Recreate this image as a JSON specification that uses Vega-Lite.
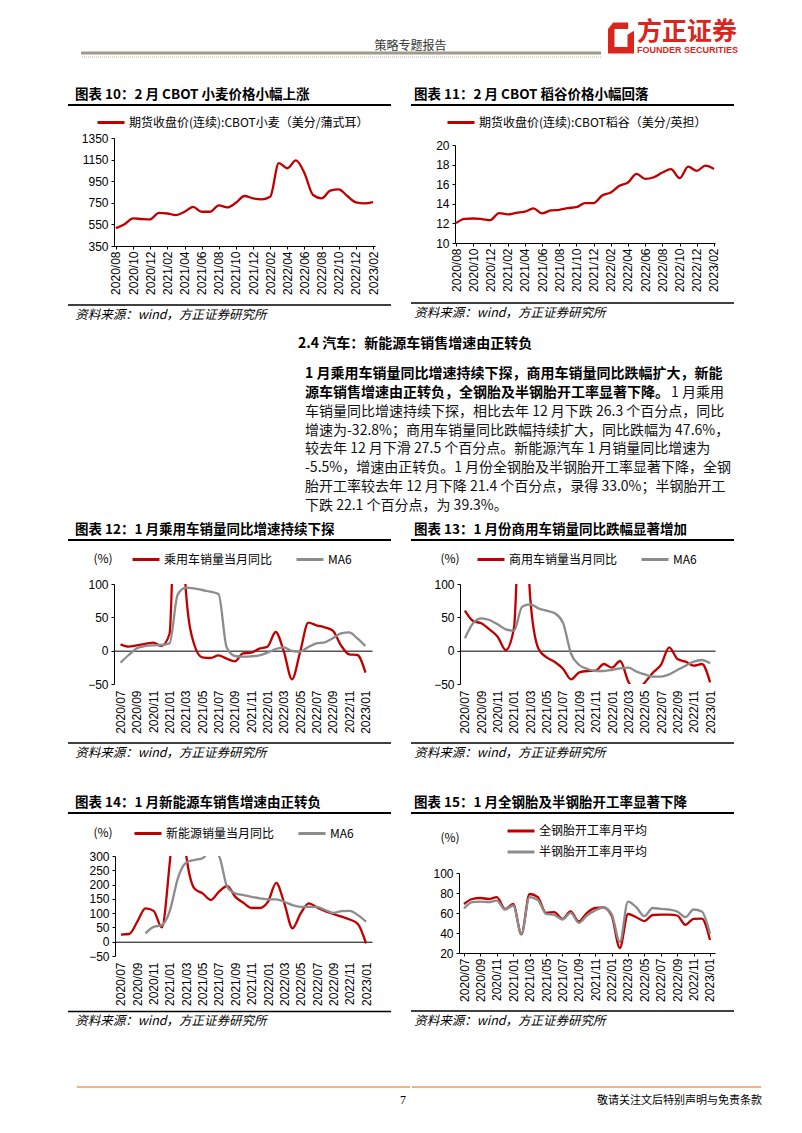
{
  "$schema": "https://vega.github.io/schema/vega-lite/v6.json",
  "background": "white",
  "padding": {"left": 67, "top": 20, "right": 5, "bottom": 5},
  "datasets": {
    "c10": [{"m":"2020/08","v":515},{"m":"2020/09","v":552},{"m":"2020/10","v":605},{"m":"2020/11","v":600},{"m":"2020/12","v":597},{"m":"2021/01","v":657},{"m":"2021/02","v":651},{"m":"2021/03","v":636},{"m":"2021/04","v":667},{"m":"2021/05","v":713},{"m":"2021/06","v":667},{"m":"2021/07","v":667},{"m":"2021/08","v":726},{"m":"2021/09","v":707},{"m":"2021/10","v":750},{"m":"2021/11","v":813},{"m":"2021/12","v":791},{"m":"2022/01","v":782},{"m":"2022/02","v":806},{"m":"2022/03","v":1117},{"m":"2022/04","v":1070},{"m":"2022/05","v":1142},{"m":"2022/06","v":1024},{"m":"2022/07","v":822},{"m":"2022/08","v":791},{"m":"2022/09","v":862},{"m":"2022/10","v":875},{"m":"2022/11","v":813},{"m":"2022/12","v":754},{"m":"2023/01","v":744},{"m":"2023/02","v":757}],
    "c11": [{"m":"2020/08","v":12.03},{"m":"2020/09","v":12.47},{"m":"2020/10","v":12.5},{"m":"2020/11","v":12.44},{"m":"2020/12","v":12.34},{"m":"2021/01","v":13.05},{"m":"2021/02","v":12.92},{"m":"2021/03","v":13.08},{"m":"2021/04","v":13.19},{"m":"2021/05","v":13.53},{"m":"2021/06","v":13.02},{"m":"2021/07","v":13.32},{"m":"2021/08","v":13.39},{"m":"2021/09","v":13.56},{"m":"2021/10","v":13.66},{"m":"2021/11","v":14.07},{"m":"2021/12","v":14.07},{"m":"2022/01","v":14.85},{"m":"2022/02","v":15.15},{"m":"2022/03","v":15.83},{"m":"2022/04","v":16.17},{"m":"2022/05","v":17.05},{"m":"2022/06","v":16.54},{"m":"2022/07","v":16.71},{"m":"2022/08","v":17.19},{"m":"2022/09","v":17.53},{"m":"2022/10","v":16.61},{"m":"2022/11","v":17.8},{"m":"2022/12","v":17.36},{"m":"2023/01","v":17.9},{"m":"2023/02","v":17.56}],
    "c12": [{"m":"2020/07","乘用车销量当月同比":9.5,"MA6":-18},{"m":"2020/08","乘用车销量当月同比":6,"MA6":-6.5},{"m":"2020/09","乘用车销量当月同比":8,"MA6":3.5},{"m":"2020/10","乘用车销量当月同比":10,"MA6":7},{"m":"2020/11","乘用车销量当月同比":12,"MA6":8},{"m":"2020/12","乘用车销量当月同比":7,"MA6":8.5},{"m":"2021/01","乘用车销量当月同比":25,"MA6":11},{"m":"2021/02","乘用车销量当月同比":360,"MA6":84},{"m":"2021/03","乘用车销量当月同比":90,"MA6":94.5},{"m":"2021/04","乘用车销量当月同比":10,"MA6":93.5},{"m":"2021/05","乘用车销量当月同比":-10,"MA6":91},{"m":"2021/06","乘用车销量当月同比":-11,"MA6":88.5},{"m":"2021/07","乘用车销量当月同比":-7,"MA6":85},{"m":"2021/08","乘用车销量当月同比":-12,"MA6":5},{"m":"2021/09","乘用车销量当月同比":-16,"MA6":-8},{"m":"2021/10","乘用车销量当月同比":-4,"MA6":-9},{"m":"2021/11","乘用车销量当月同比":-3,"MA6":-8.5},{"m":"2021/12","乘用车销量当月同比":3,"MA6":-7},{"m":"2022/01","乘用车销量当月同比":6,"MA6":-3},{"m":"2022/02","乘用车销量当月同比":28,"MA6":2.5},{"m":"2022/03","乘用车销量当月同比":-1,"MA6":5},{"m":"2022/04","乘用车销量当月同比":-43,"MA6":-0.5},{"m":"2022/05","乘用车销量当月同比":-2,"MA6":-1.5},{"m":"2022/06","乘用车销量当月同比":42,"MA6":5.5},{"m":"2022/07","乘用车销量当月同比":38,"MA6":11},{"m":"2022/08","乘用车销量当月同比":35,"MA6":12.5},{"m":"2022/09","乘用车销量当月同比":30,"MA6":18.5},{"m":"2022/10","乘用车销量当月同比":8,"MA6":26},{"m":"2022/11","乘用车销量当月同比":-5.5,"MA6":27.5},{"m":"2022/12","乘用车销量当月同比":-6.5,"MA6":18.5},{"m":"2023/01","乘用车销量当月同比":-32.8,"MA6":7}],
    "c13": [{"m":"2020/07","商用车销量当月同比":60,"MA6":18.5},{"m":"2020/08","商用车销量当月同比":44.5,"MA6":41},{"m":"2020/09","商用车销量当月同比":41,"MA6":48.5},{"m":"2020/10","商用车销量当月同比":32,"MA6":46},{"m":"2020/11","商用车销量当月同比":21,"MA6":39.5},{"m":"2020/12","商用车销量当月同比":1,"MA6":32},{"m":"2021/01","商用车销量当月同比":33.5,"MA6":30},{"m":"2021/02","商用车销量当月同比":300,"MA6":66},{"m":"2021/03","商用车销量当月同比":78,"MA6":69.5},{"m":"2021/04","商用车销量当月同比":3,"MA6":63.5},{"m":"2021/05","商用车销量当月同比":-10,"MA6":60},{"m":"2021/06","商用车销量当月同比":-17,"MA6":56},{"m":"2021/07","商用车销量当月同比":-27,"MA6":42},{"m":"2021/08","商用车销量当月同比":-43,"MA6":-5},{"m":"2021/09","商用车销量当月同比":-32.5,"MA6":-21.5},{"m":"2021/10","商用车销量当月同比":-30.5,"MA6":-27.5},{"m":"2021/11","商用车销量当月同比":-30,"MA6":-30.5},{"m":"2021/12","商用车销量当月同比":-20,"MA6":-30.5},{"m":"2022/01","商用车销量当月同比":-25.5,"MA6":-29},{"m":"2022/02","商用车销量当月同比":-15.5,"MA6":-26.5},{"m":"2022/03","商用车销量当月同比":-46.5,"MA6":-25.5},{"m":"2022/04","商用车销量当月同比":-61.4,"MA6":-31.5},{"m":"2022/05","商用车销量当月同比":-48,"MA6":-35.5},{"m":"2022/06","商用车销量当月同比":-33,"MA6":-39},{"m":"2022/07","商用车销量当月同比":-21,"MA6":-39},{"m":"2022/08","商用车销量当月同比":5,"MA6":-35.5},{"m":"2022/09","商用车销量当月同比":-12.5,"MA6":-29},{"m":"2022/10","商用车销量当月同比":-16.5,"MA6":-22.5},{"m":"2022/11","商用车销量当月同比":-22.5,"MA6":-16.5},{"m":"2022/12","商用车销量当月同比":-20,"MA6":-14},{"m":"2023/01","商用车销量当月同比":-47.6,"MA6":-19}],
    "c14": [{"m":"2020/07","新能源销量当月同比":25},{"m":"2020/08","新能源销量当月同比":27},{"m":"2020/09","新能源销量当月同比":70},{"m":"2020/10","新能源销量当月同比":117,"MA6":29},{"m":"2020/11","新能源销量当月同比":108,"MA6":52},{"m":"2020/12","新能源销量当月同比":50,"MA6":58},{"m":"2021/01","新能源销量当月同比":285,"MA6":110},{"m":"2021/02","新能源销量当月同比":600,"MA6":225},{"m":"2021/03","新能源销量当月同比":300,"MA6":277},{"m":"2021/04","新能源销量当月同比":186,"MA6":286},{"m":"2021/05","新能源销量当月同比":169,"MA6":292},{"m":"2021/06","新能源销量当月同比":146,"MA6":320},{"m":"2021/07","新能源销量当月同比":175,"MA6":300},{"m":"2021/08","新能源销量当月同比":195,"MA6":192},{"m":"2021/09","新能源销量当月同比":157,"MA6":169},{"m":"2021/10","新能源销量当月同比":136,"MA6":163},{"m":"2021/11","新能源销量当月同比":118,"MA6":157},{"m":"2021/12","新能源销量当月同比":118,"MA6":152},{"m":"2022/01","新能源销量当月同比":140,"MA6":148},{"m":"2022/02","新能源销量当月同比":206,"MA6":148},{"m":"2022/03","新能源销量当月同比":134,"MA6":140},{"m":"2022/04","新能源销量当月同比":47,"MA6":128},{"m":"2022/05","新能源销量当月同比":99,"MA6":122},{"m":"2022/06","新能源销量当月同比":134,"MA6":122},{"m":"2022/07","新能源销量当月同比":120,"MA6":122},{"m":"2022/08","新能源销量当月同比":107,"MA6":111},{"m":"2022/09","新能源销量当月同比":97,"MA6":101},{"m":"2022/10","新能源销量当月同比":87.5,"MA6":107},{"m":"2022/11","新能源销量当月同比":78,"MA6":108},{"m":"2022/12","新能源销量当月同比":62,"MA6":93},{"m":"2023/01","新能源销量当月同比":-5.5,"MA6":70}],
    "c15": [{"m":"2020/07","全钢胎开工率月平均":69,"半钢胎开工率月平均":64.5},{"m":"2020/08","全钢胎开工率月平均":74,"半钢胎开工率月平均":70.8},{"m":"2020/09","全钢胎开工率月平均":75,"半钢胎开工率月平均":71.4},{"m":"2020/10","全钢胎开工率月平均":74,"半钢胎开工率月平均":70.8},{"m":"2020/11","全钢胎开工率月平均":75.8,"半钢胎开工率月平均":72.4},{"m":"2020/12","全钢胎开工率月平均":64,"半钢胎开工率月平均":63.5},{"m":"2021/01","全钢胎开工率月平均":69,"半钢胎开工率月平均":67.5},{"m":"2021/02","全钢胎开工率月平均":38.6,"半钢胎开工率月平均":39.2},{"m":"2021/03","全钢胎开工率月平均":79,"半钢胎开工率月平均":75.8},{"m":"2021/04","全钢胎开工率月平均":75.8,"半钢胎开工率月平均":73},{"m":"2021/05","全钢胎开工率月平均":60.2,"半钢胎开工率月平均":59.2},{"m":"2021/06","全钢胎开工率月平均":60.8,"半钢胎开工率月平均":58.2},{"m":"2021/07","全钢胎开工率月平均":54.2,"半钢胎开工率月平均":53.5},{"m":"2021/08","全钢胎开工率月平均":61.5,"半钢胎开工率月平均":60.2},{"m":"2021/09","全钢胎开工率月平均":51.5,"半钢胎开工率月平均":50.2},{"m":"2021/10","全钢胎开工率月平均":60.2,"半钢胎开工率月平均":57.5},{"m":"2021/11","全钢胎开工率月平均":65,"半钢胎开工率月平均":62.5},{"m":"2021/12","全钢胎开工率月平均":65.5,"半钢胎开工率月平均":65.5},{"m":"2022/01","全钢胎开工率月平均":57.5,"半钢胎开工率月平均":59.2},{"m":"2022/02","全钢胎开工率月平均":25,"半钢胎开工率月平均":31},{"m":"2022/03","全钢胎开工率月平均":59,"半钢胎开工率月平均":71.4},{"m":"2022/04","全钢胎开工率月平均":55.8,"半钢胎开工率月平均":65.8},{"m":"2022/05","全钢胎开工率月平均":51.9,"半钢胎开工率月平均":56.8},{"m":"2022/06","全钢胎开工率月平均":58,"半钢胎开工率月平均":65},{"m":"2022/07","全钢胎开工率月平均":58.4,"半钢胎开工率月平均":64.1},{"m":"2022/08","全钢胎开工率月平均":58.4,"半钢胎开工率月平均":63.5},{"m":"2022/09","全钢胎开工率月平均":57.5,"半钢胎开工率月平均":61.5},{"m":"2022/10","全钢胎开工率月平均":48.2,"半钢胎开工率月平均":55.8},{"m":"2022/11","全钢胎开工率月平均":54.2,"半钢胎开工率月平均":63.5},{"m":"2022/12","全钢胎开工率月平均":54.4,"半钢胎开工率月平均":61.4},{"m":"2023/01","全钢胎开工率月平均":33,"半钢胎开工率月平均":39.3}],
    "para": [
      {"line":1,"part":"bold","text":"1 月乘用车销量同比增速持续下探，商用车销量同比跌幅扩大，新能"},
      {"line":2,"part":"bold","text":"源车销售增速由正转负，全钢胎及半钢胎开工率显著下降。"},
      {"line":2,"part":"tail","text":"1 月乘用"},
      {"line":3,"part":"body","text":"车销量同比增速持续下探，相比去年 12 月下跌 26.3 个百分点，同比"},
      {"line":4,"part":"body","text":"增速为-32.8%；商用车销量同比跌幅持续扩大，同比跌幅为 47.6%，"},
      {"line":5,"part":"body","text":"较去年 12 月下滑 27.5 个百分点。新能源汽车 1 月销量同比增速为"},
      {"line":6,"part":"body","text":"-5.5%，增速由正转负。1 月份全钢胎及半钢胎开工率显著下降，全钢"},
      {"line":7,"part":"body","text":"胎开工率较去年 12 月下降 21.4 个百分点，录得 33.0%；半钢胎开工"},
      {"line":8,"part":"body","text":"下跌 22.1 个百分点，为 39.3%。"}
    ]
  },
  "config": {
    "view": {"stroke": null},
    "font": "Noto Sans CJK SC",
    "axis": {"labelFont": "Liberation Sans", "labelFontSize": 12, "labelColor": "#000000", "domainColor": "#000000", "tickColor": "#000000", "grid": false, "titleFont": "Noto Sans CJK SC", "titleFontSize": 12, "titleFontWeight": "normal", "titleColor": "#000000", "labelOverlap": false},
    "axisX": {"labelAngle": -90, "tickSize": 3, "labelPadding": 2},
    "axisY": {"tickSize": 3, "labelPadding": 3},
    "legend": {"orient": "none", "direction": "horizontal", "symbolType": "stroke", "symbolStrokeWidth": 3, "symbolSize": 729, "labelFont": "Noto Sans CJK SC", "labelFontSize": 12, "labelColor": "#000000", "labelLimit": 400, "columnPadding": 17, "labelOffset": 3, "padding": 0},
    "title": {"font": "Noto Sans CJK SC", "anchor": "start", "color": "#000000"}
  },
  "resolve": {"scale": {"color": "independent"}, "legend": {"color": "independent"}},
  "spacing": 29,
  "vconcat": [
    {
      "spacing": 0,
      "hconcat": [
        {"width": 11, "height": 4, "data": {"values": []}, "mark": "point"},
        {"width": 520, "height": 4, "data": {"values": [{}]},
         "title": {"text": "策略专题报告", "fontSize": 12, "fontWeight": "normal", "color": "#333333", "dx": 295, "offset": -1},
         "layer": [
           {"mark": {"type": "rule", "color": "#A09B87", "strokeWidth": 3}, "encoding": {"y": {"datum": 1, "type": "quantitative", "scale": {"domain": [0, 1]}, "axis": null}}},
           {"mark": {"type": "rule", "color": "#BDB9A8", "strokeWidth": 1, "strokeDash": [1, 1]}, "encoding": {"y": {"datum": 0, "type": "quantitative", "axis": null}}}
         ]},
        {"width": 5, "height": 4, "data": {"values": []}, "mark": "point"},
        {"width": 26, "height": 4, "data": {"values": [{}]},
         "mark": {"type": "point", "shape": "M-1,-0.7 L-0.6,-1.2 L0.55,-1.2 L0.55,-0.7 L-0.5,-0.7 L-0.5,0.7 L0.5,0.7 L0.5,-0.25 L1,-0.55 L1,1.2 L-1,1.2 Z", "size": 676, "filled": true, "color": "#D9251D", "opacity": 1, "yOffset": -17}},
        {"width": 115, "height": 4, "data": {"values": []}, "mark": "point",
         "title": {"text": "方正证券", "subtitle": "FOUNDER SECURITIES", "fontSize": 25, "fontWeight": "bold", "color": "#D9251D", "subtitleColor": "#D9251D", "subtitleFont": "Liberation Sans", "subtitleFontSize": 9, "subtitleFontWeight": "bold", "subtitlePadding": 1, "offset": -2, "dx": 3}}
      ]
    },
    {
      "spacing": 15,
      "resolve": {"scale": {"color": "independent"}, "legend": {"color": "independent"}},
      "vconcat": [
        {
          "spacing": 18,
          "resolve": {"scale": {"color": "independent"}, "legend": {"color": "independent"}},
          "hconcat": [
            {
              "columns": 1, "spacing": 1,
              "resolve": {"scale": {"color": "independent"}, "legend": {"color": "independent"}},
              "concat": [
                {"width": 323, "height": 1, "data": {"values": [{}]},
                 "title": {"text": "图表 10：2 月 CBOT 小麦价格小幅上涨", "fontSize": 13.5, "fontWeight": "bold", "offset": 3, "dx": 8},
                 "mark": {"type": "rule", "color": "#000000", "strokeWidth": 2},
                 "encoding": {"y": {"datum": 1, "type": "quantitative", "scale": {"domain": [0, 1]}, "axis": null}}},
                {"width": 323, "height": 108, "data": {"name": "c10"},
                 "mark": {"type": "line", "interpolate": "monotone", "strokeWidth": 2.3, "clip": true},
                 "encoding": {
                   "x": {"field": "m", "type": "ordinal", "scale": {"type": "point", "padding": 0.23, "range": [46, 307]}, "axis": {"title": null, "values": ["2020/08","2020/10","2020/12","2021/02","2021/04","2021/06","2021/08","2021/10","2021/12","2022/02","2022/04","2022/06","2022/08","2022/10","2022/12","2023/02"]}},
                   "y": {"field": "v", "type": "quantitative", "scale": {"domain": [350, 1350], "nice": false, "zero": false}, "axis": {"title": null, "format": "d", "offset": -46, "values": [350, 550, 750, 950, 1150, 1350]}},
                   "color": {"datum": "期货收盘价(连续):CBOT小麦（美分/蒲式耳）", "type": "nominal", "scale": {"range": ["#C00000"]}, "legend": {"title": null, "orient": "none", "legendX": 28, "legendY": -30.5}}
                 }},
                {"width": 323, "height": 9, "data": {"values": [{}]},
                 "title": {"text": "资料来源：wind，方正证券研究所", "orient": "bottom", "fontSize": 12.5, "fontStyle": "italic", "fontWeight": "normal", "offset": 3, "dx": 8},
                 "mark": {"type": "rule", "color": "#000000", "strokeWidth": 1.5},
                 "encoding": {"y": {"datum": 0, "type": "quantitative", "scale": {"domain": [0, 1]}, "axis": null}}}
              ]
            },
            {
              "columns": 1, "spacing": 1,
              "resolve": {"scale": {"color": "independent"}, "legend": {"color": "independent"}},
              "concat": [
                {"width": 323, "height": 1, "data": {"values": [{}]},
                 "title": {"text": "图表 11：2 月 CBOT 稻谷价格小幅回落", "fontSize": 13.5, "fontWeight": "bold", "offset": 3, "dx": 4},
                 "mark": {"type": "rule", "color": "#000000", "strokeWidth": 2},
                 "encoding": {"y": {"datum": 1, "type": "quantitative", "scale": {"domain": [0, 1]}, "axis": null}}},
                {"width": 323, "height": 98, "data": {"name": "c11"},
                 "mark": {"type": "line", "interpolate": "monotone", "strokeWidth": 2.3, "clip": true},
                 "encoding": {
                   "x": {"field": "m", "type": "ordinal", "scale": {"type": "point", "padding": 0.12, "range": [44, 304]}, "axis": {"title": null, "values": ["2020/08","2020/10","2020/12","2021/02","2021/04","2021/06","2021/08","2021/10","2021/12","2022/02","2022/04","2022/06","2022/08","2022/10","2022/12","2023/02"]}},
                   "y": {"field": "v", "type": "quantitative", "scale": {"domain": [10, 20], "nice": false, "zero": false}, "axis": {"title": null, "offset": -44, "values": [10, 12, 14, 16, 18, 20]}},
                   "color": {"datum": "期货收盘价(连续):CBOT稻谷（美分/英担）", "type": "nominal", "scale": {"range": ["#C00000"]}, "legend": {"title": null, "orient": "none", "legendX": 35, "legendY": -37.5}}
                 }},
                {"width": 323, "height": 10, "data": {"values": [{}]},
                 "title": {"text": "资料来源：wind，方正证券研究所", "orient": "bottom", "fontSize": 12.5, "fontStyle": "italic", "fontWeight": "normal", "offset": 3, "dx": 4},
                 "mark": {"type": "rule", "color": "#000000", "strokeWidth": 1.5},
                 "encoding": {"y": {"datum": 0, "type": "quantitative", "scale": {"domain": [0, 1]}, "axis": null}}}
              ]
            }
          ]
        },
        {
          "spacing": 7,
          "resolve": {"scale": {"color": "independent"}, "legend": {"color": "independent"}},
          "vconcat": [
            {
              "spacing": 0,
              "hconcat": [
                {"width": 230, "height": 1, "data": {"values": []}, "mark": "point"},
                {"width": 419, "height": 150, "data": {"name": "para"},
                 "title": {"text": "2.4 汽车：新能源车销售增速由正转负", "fontSize": 14, "fontWeight": "bold", "dx": -7, "offset": 14},
                 "layer": [
                   {"transform": [{"filter": "datum.part === 'bold'"}],
                    "mark": {"type": "text", "align": "left", "baseline": "middle", "fontSize": 14, "fontWeight": "bold", "color": "#000000"},
                    "encoding": {"x": {"datum": 0, "type": "quantitative", "scale": {"domain": [0, 1]}, "axis": null}, "y": {"field": "line", "type": "ordinal", "scale": {"type": "point", "padding": 0.5}, "axis": null}, "text": {"field": "text"}}},
                   {"transform": [{"filter": "datum.part === 'body'"}],
                    "mark": {"type": "text", "align": "left", "baseline": "middle", "fontSize": 14, "fontWeight": "normal", "color": "#111111"},
                    "encoding": {"x": {"datum": 0, "type": "quantitative", "scale": {"domain": [0, 1]}, "axis": null}, "y": {"field": "line", "type": "ordinal", "scale": {"type": "point", "padding": 0.5}, "axis": null}, "text": {"field": "text"}}},
                   {"transform": [{"filter": "datum.part === 'tail'"}],
                    "mark": {"type": "text", "align": "right", "baseline": "middle", "fontSize": 14, "fontWeight": "normal", "color": "#111111"},
                    "encoding": {"x": {"datum": 1, "type": "quantitative", "scale": {"domain": [0, 1]}, "axis": null}, "y": {"field": "line", "type": "ordinal", "scale": {"type": "point", "padding": 0.5}, "axis": null}, "text": {"field": "text"}}}
                 ]}
              ]
            },
            {
              "spacing": 35,
              "resolve": {"scale": {"color": "independent"}, "legend": {"color": "independent"}},
              "vconcat": [
                {
                  "spacing": 18,
                  "resolve": {"scale": {"color": "independent"}, "legend": {"color": "independent"}},
                  "hconcat": [
                    {
                      "columns": 1, "spacing": 3,
                      "resolve": {"scale": {"color": "independent"}, "legend": {"color": "independent"}},
                      "concat": [
                        {"width": 323, "height": 1, "data": {"values": [{}]},
                         "title": {"text": "图表 12：1 月乘用车销量同比增速持续下探", "fontSize": 13.5, "fontWeight": "bold", "offset": 3, "dx": 8},
                         "mark": {"type": "rule", "color": "#000000", "strokeWidth": 2},
                         "encoding": {"y": {"datum": 1, "type": "quantitative", "scale": {"domain": [0, 1]}, "axis": null}}},
                        {"width": 323, "height": 100, "data": {"name": "c12"},
                         "transform": [{"fold": ["乘用车销量当月同比", "MA6"], "as": ["s", "v"]}],
                         "mark": {"type": "line", "interpolate": "monotone", "strokeWidth": 2.3, "clip": true},
                         "encoding": {
                           "x": {"field": "m", "type": "ordinal", "scale": {"type": "point", "padding": 0.8, "range": [46, 304]}, "axis": {"title": null, "offset": -33.33, "ticks": false, "labelPadding": 39.3, "values": ["2020/07","2020/09","2020/11","2021/01","2021/03","2021/05","2021/07","2021/09","2021/11","2022/01","2022/03","2022/05","2022/07","2022/09","2022/11","2023/01"]}},
                           "y": {"field": "v", "type": "quantitative", "scale": {"domain": [-50, 100], "nice": false, "zero": false}, "axis": {"title": "(%)", "titleX": -21, "titleY": -26, "titleAngle": 0, "titleAlign": "left", "titleBaseline": "middle", "offset": -46, "values": [-50, 0, 50, 100]}},
                           "color": {"field": "s", "type": "nominal", "scale": {"domain": ["乘用车销量当月同比", "MA6"], "range": ["#C00000", "#8C8C8C"]}, "legend": {"title": null, "orient": "none", "legendX": 63, "legendY": -39.5}}
                         }},
                        {"width": 323, "height": 6, "data": {"values": [{}]},
                         "title": {"text": "资料来源：wind，方正证券研究所", "orient": "bottom", "fontSize": 12.5, "fontStyle": "italic", "fontWeight": "normal", "offset": 3, "dx": 8},
                         "mark": {"type": "rule", "color": "#000000", "strokeWidth": 1.5},
                         "encoding": {"y": {"datum": 0, "type": "quantitative", "scale": {"domain": [0, 1]}, "axis": null}}}
                      ]
                    },
                    {
                      "columns": 1, "spacing": 3,
                      "resolve": {"scale": {"color": "independent"}, "legend": {"color": "independent"}},
                      "concat": [
                        {"width": 323, "height": 1, "data": {"values": [{}]},
                         "title": {"text": "图表 13：1 月份商用车销量同比跌幅显著增加", "fontSize": 13.5, "fontWeight": "bold", "offset": 3, "dx": 4},
                         "mark": {"type": "rule", "color": "#000000", "strokeWidth": 2},
                         "encoding": {"y": {"datum": 1, "type": "quantitative", "scale": {"domain": [0, 1]}, "axis": null}}},
                        {"width": 323, "height": 100, "data": {"name": "c13"},
                         "transform": [{"fold": ["商用车销量当月同比", "MA6"], "as": ["s", "v"]}],
                         "mark": {"type": "line", "interpolate": "monotone", "strokeWidth": 2.3, "clip": true},
                         "encoding": {
                           "x": {"field": "m", "type": "ordinal", "scale": {"type": "point", "padding": 0.6, "range": [49, 304]}, "axis": {"title": null, "offset": -33.33, "ticks": false, "labelPadding": 39.3, "values": ["2020/07","2020/09","2020/11","2021/01","2021/03","2021/05","2021/07","2021/09","2021/11","2022/01","2022/03","2022/05","2022/07","2022/09","2022/11","2023/01"]}},
                           "y": {"field": "v", "type": "quantitative", "scale": {"domain": [-50, 100], "nice": false, "zero": false}, "axis": {"title": "(%)", "titleX": -20, "titleY": -26, "titleAngle": 0, "titleAlign": "left", "titleBaseline": "middle", "offset": -49, "values": [-50, 0, 50, 100]}},
                           "color": {"field": "s", "type": "nominal", "scale": {"domain": ["商用车销量当月同比", "MA6"], "range": ["#C00000", "#8C8C8C"]}, "legend": {"title": null, "orient": "none", "legendX": 65, "legendY": -39.5}}
                         }},
                        {"width": 323, "height": 6, "data": {"values": [{}]},
                         "title": {"text": "资料来源：wind，方正证券研究所", "orient": "bottom", "fontSize": 12.5, "fontStyle": "italic", "fontWeight": "normal", "offset": 3, "dx": 4},
                         "mark": {"type": "rule", "color": "#000000", "strokeWidth": 1.5},
                         "encoding": {"y": {"datum": 0, "type": "quantitative", "scale": {"domain": [0, 1]}, "axis": null}}}
                      ]
                    }
                  ]
                },
                {
                  "spacing": 58,
                  "resolve": {"scale": {"color": "independent"}, "legend": {"color": "independent"}},
                  "vconcat": [
                    {
                      "spacing": 18,
                      "resolve": {"scale": {"color": "independent"}, "legend": {"color": "independent"}},
                      "hconcat": [
                        {
                          "columns": 1, "spacing": 4,
                          "resolve": {"scale": {"color": "independent"}, "legend": {"color": "independent"}},
                          "concat": [
                            {"width": 323, "height": 1, "data": {"values": [{}]},
                             "title": {"text": "图表 14：1 月新能源车销售增速由正转负", "fontSize": 13.5, "fontWeight": "bold", "offset": 3, "dx": 8},
                             "mark": {"type": "rule", "color": "#000000", "strokeWidth": 2},
                             "encoding": {"y": {"datum": 1, "type": "quantitative", "scale": {"domain": [0, 1]}, "axis": null}}},
                            {"width": 323, "height": 100, "data": {"name": "c14"},
                             "transform": [{"fold": ["新能源销量当月同比", "MA6"], "as": ["s", "v"]}],
                             "mark": {"type": "line", "interpolate": "monotone", "strokeWidth": 2.3, "clip": true},
                             "encoding": {
                               "x": {"field": "m", "type": "ordinal", "scale": {"type": "point", "padding": 0.73, "range": [47, 304]}, "axis": {"title": null, "offset": -14.29, "ticks": false, "labelPadding": 20.3, "values": ["2020/07","2020/09","2020/11","2021/01","2021/03","2021/05","2021/07","2021/09","2021/11","2022/01","2022/03","2022/05","2022/07","2022/09","2022/11","2023/01"]}},
                               "y": {"field": "v", "type": "quantitative", "scale": {"domain": [-50, 300], "nice": false, "zero": false}, "axis": {"title": "(%)", "titleX": -22, "titleY": -24, "titleAngle": 0, "titleAlign": "left", "titleBaseline": "middle", "offset": -47, "values": [-50, 0, 50, 100, 150, 200, 250, 300]}},
                               "color": {"field": "s", "type": "nominal", "scale": {"domain": ["新能源销量当月同比", "MA6"], "range": ["#C00000", "#8C8C8C"]}, "legend": {"title": null, "orient": "none", "legendX": 65, "legendY": -37.5}}
                             }},
                            {"width": 323, "height": 1.5, "data": {"values": [{}]},
                             "title": {"text": "资料来源：wind，方正证券研究所", "orient": "bottom", "fontSize": 12.5, "fontStyle": "italic", "fontWeight": "normal", "offset": 3, "dx": 8},
                             "mark": {"type": "rule", "color": "#000000", "strokeWidth": 1.5},
                             "encoding": {"y": {"datum": 0, "type": "quantitative", "scale": {"domain": [0, 1]}, "axis": null}}}
                          ]
                        },
                        {
                          "columns": 1, "spacing": 2,
                          "resolve": {"scale": {"color": "independent"}, "legend": {"color": "independent"}},
                          "concat": [
                            {"width": 323, "height": 1, "data": {"values": [{}]},
                             "title": {"text": "图表 15：1 月全钢胎及半钢胎开工率显著下降", "fontSize": 13.5, "fontWeight": "bold", "offset": 3, "dx": 4},
                             "mark": {"type": "rule", "color": "#000000", "strokeWidth": 2},
                             "encoding": {"y": {"datum": 1, "type": "quantitative", "scale": {"domain": [0, 1]}, "axis": null}}},
                            {"width": 323, "height": 80, "data": {"name": "c15"},
                             "transform": [{"fold": ["全钢胎开工率月平均", "半钢胎开工率月平均"], "as": ["s", "v"]}],
                             "mark": {"type": "line", "interpolate": "monotone", "strokeWidth": 2.3, "clip": true},
                             "encoding": {
                               "x": {"field": "m", "type": "ordinal", "scale": {"type": "point", "padding": 0.61, "range": [48, 304]}, "axis": {"title": "(%)", "titleX": 29, "titleY": -116, "titleAngle": 0, "titleAlign": "left", "titleBaseline": "middle", "values": ["2020/07","2020/09","2020/11","2021/01","2021/03","2021/05","2021/07","2021/09","2021/11","2022/01","2022/03","2022/05","2022/07","2022/09","2022/11","2023/01"]}},
                               "y": {"field": "v", "type": "quantitative", "scale": {"domain": [20, 100], "nice": false, "zero": false}, "axis": {"title": null, "offset": -48, "values": [20, 40, 60, 80, 100]}},
                               "color": {"field": "s", "type": "nominal", "scale": {"domain": ["全钢胎开工率月平均", "半钢胎开工率月平均"], "range": ["#C00000", "#8C8C8C"]}, "legend": {"title": null, "orient": "none", "direction": "horizontal", "columns": 1, "rowPadding": 0, "legendX": 95, "legendY": -57}}
                             }},
                            {"width": 323, "height": 7, "data": {"values": [{}]},
                             "title": {"text": "资料来源：wind，方正证券研究所", "orient": "bottom", "fontSize": 12.5, "fontStyle": "italic", "fontWeight": "normal", "offset": 3, "dx": 4},
                             "mark": {"type": "rule", "color": "#000000", "strokeWidth": 1.5},
                             "encoding": {"y": {"datum": 0, "type": "quantitative", "scale": {"domain": [0, 1]}, "axis": null}}}
                          ]
                        }
                      ]
                    },
                    {
                      "spacing": 0,
                      "hconcat": [
                        {"width": 8, "height": 1, "data": {"values": []}, "mark": "point"},
                        {"width": 333, "height": 1, "data": {"values": [{}]},
                         "title": {"text": "7", "orient": "bottom", "anchor": "end", "dx": -5, "offset": 7, "fontSize": 12, "font": "Liberation Serif", "fontWeight": "normal", "color": "#000000"},
                         "mark": {"type": "rule", "color": "#F4B183", "strokeWidth": 2},
                         "encoding": {"y": {"datum": 1, "type": "quantitative", "scale": {"domain": [0, 1]}, "axis": null}}},
                        {"width": 349, "height": 1, "data": {"values": [{}]},
                         "title": {"text": "敬请关注文后特别声明与免责条款", "orient": "bottom", "anchor": "end", "offset": 7, "fontSize": 11, "fontWeight": "normal", "color": "#000000"},
                         "mark": {"type": "rule", "color": "#F4B183", "strokeWidth": 2},
                         "encoding": {"y": {"datum": 1, "type": "quantitative", "scale": {"domain": [0, 1]}, "axis": null}}}
                      ]
                    }
                  ]
                }
              ]
            }
          ]
        }
      ]
    }
  ]
}
